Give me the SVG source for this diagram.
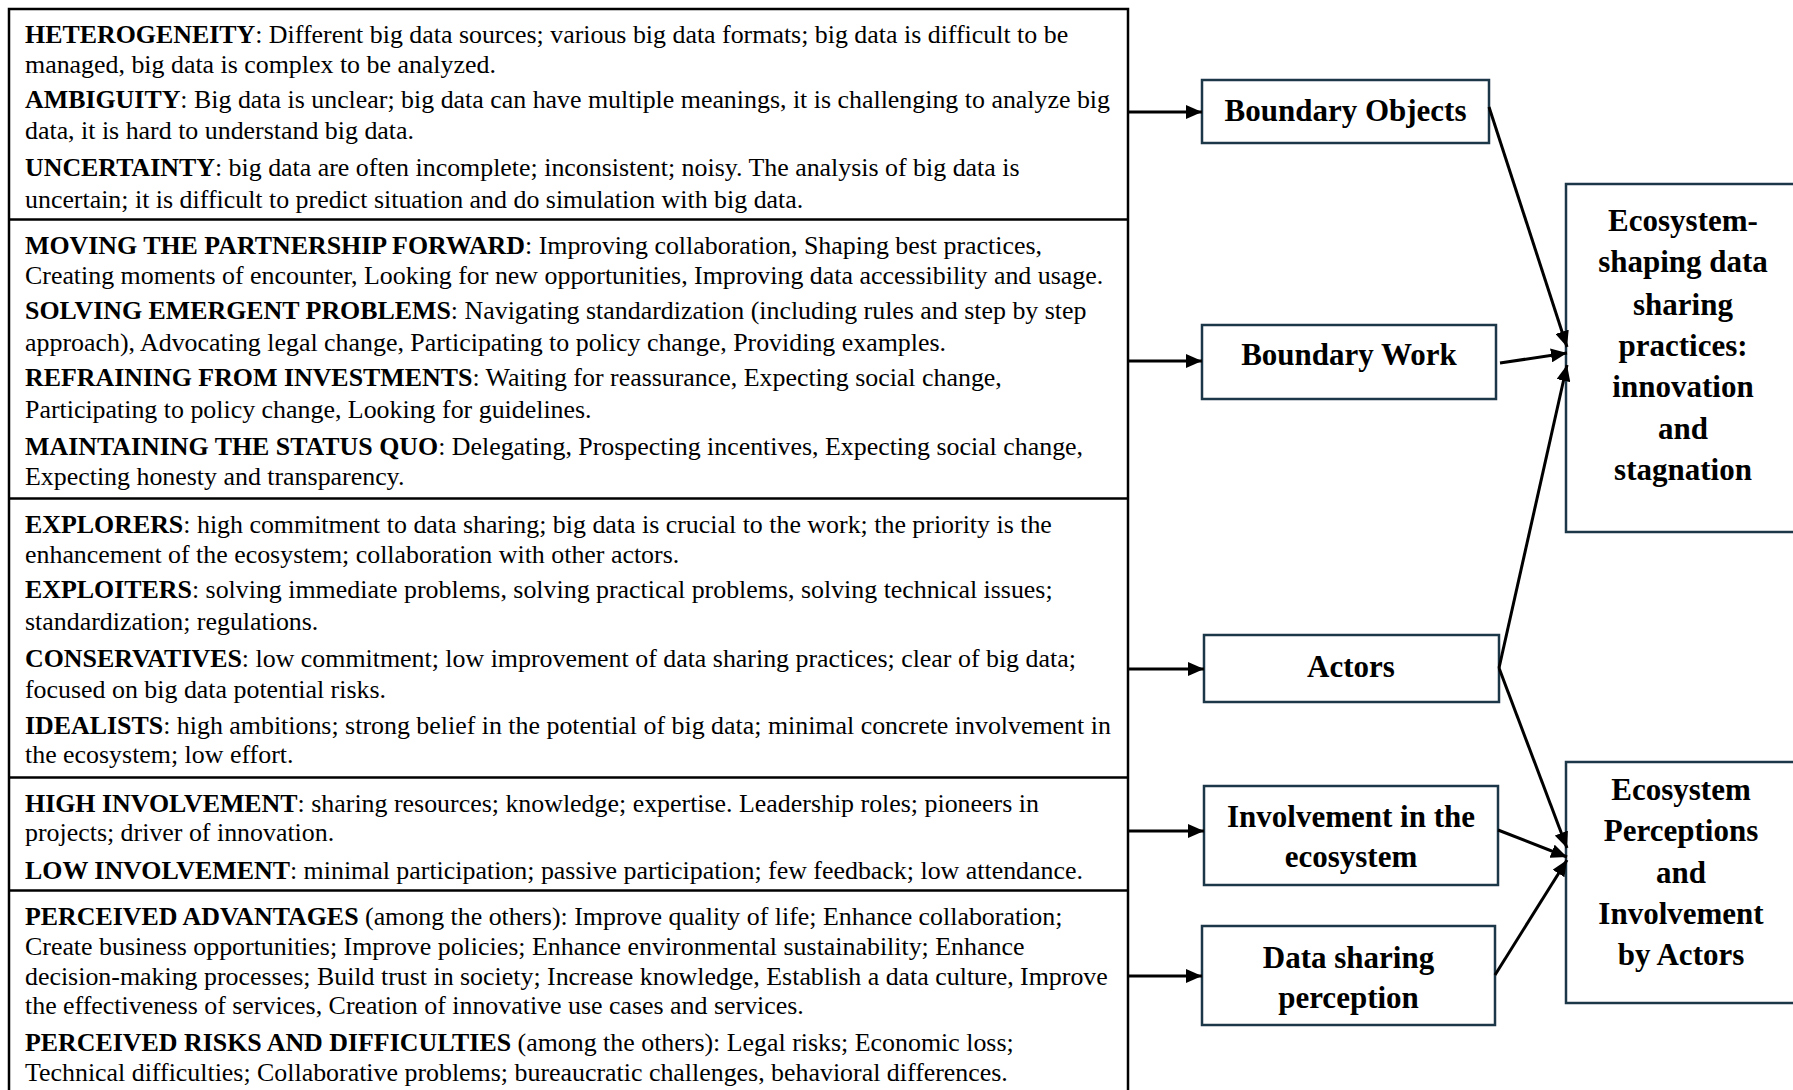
<svg xmlns="http://www.w3.org/2000/svg" width="1793" height="1090" viewBox="0 0 1793 1090">
  <defs>
    <style>
      .t { font-family: "Liberation Serif", "Times New Roman", serif; font-size: 25.9px; fill: #000; }
      .b { font-weight: bold; }
      .lbl { font-family: "Liberation Serif", "Times New Roman", serif; font-size: 31px; font-weight: bold; fill: #000; text-anchor: middle; }
      .grid { fill: none; stroke: #000; stroke-width: 2.5; }
      .box { fill: #fff; stroke: #1c3747; stroke-width: 2.5; }
      .link { fill: none; stroke: #000; stroke-width: 3; }
    </style>
    <marker id="arrow" markerUnits="userSpaceOnUse" markerWidth="17" markerHeight="14" refX="16" refY="7" orient="auto">
      <path d="M0,0 L16,7 L0,14 Z" fill="#000"/>
    </marker>
  </defs>

  <rect width="1793" height="1090" fill="#fff"/>

  <!-- Left table of categories -->
  <g id="table">
    <rect class="grid" x="9" y="9" width="1119" height="1095"/>
    <line class="grid" x1="9" y1="219.5" x2="1128" y2="219.5"/>
    <line class="grid" x1="9" y1="498.5" x2="1128" y2="498.5"/>
    <line class="grid" x1="9" y1="777.5" x2="1128" y2="777.5"/>
    <line class="grid" x1="9" y1="890.5" x2="1128" y2="890.5"/>
  </g>

  <g id="cell-objects">
    <text class="t" x="25" y="43"><tspan class="b">HETEROGENEITY</tspan>: Different big data sources; various big data formats; big data is difficult to be</text>
    <text class="t" x="25" y="73">managed, big data is complex to be analyzed.</text>
    <text class="t" x="25" y="108"><tspan class="b">AMBIGUITY</tspan>: Big data is unclear; big data can have multiple meanings, it is challenging to analyze big</text>
    <text class="t" x="25" y="139">data, it is hard to understand big data.</text>
    <text class="t" x="25" y="176"><tspan class="b">UNCERTAINTY</tspan>: big data are often incomplete; inconsistent; noisy. The analysis of big data is</text>
    <text class="t" x="25" y="208">uncertain; it is difficult to predict situation and do simulation with big data.</text>
  </g>

  <g id="cell-work">
    <text class="t" x="25" y="254"><tspan class="b">MOVING THE PARTNERSHIP FORWARD</tspan>: Improving collaboration, Shaping best practices,</text>
    <text class="t" x="25" y="284">Creating moments of encounter, Looking for new opportunities, Improving data accessibility and usage.</text>
    <text class="t" x="25" y="319"><tspan class="b">SOLVING EMERGENT PROBLEMS</tspan>: Navigating standardization (including rules and step by step</text>
    <text class="t" x="25" y="351">approach), Advocating legal change, Participating to policy change, Providing examples.</text>
    <text class="t" x="25" y="386"><tspan class="b">REFRAINING FROM INVESTMENTS</tspan>: Waiting for reassurance, Expecting social change,</text>
    <text class="t" x="25" y="418">Participating to policy change, Looking for guidelines.</text>
    <text class="t" x="25" y="455"><tspan class="b">MAINTAINING THE STATUS QUO</tspan>: Delegating, Prospecting incentives, Expecting social change,</text>
    <text class="t" x="25" y="485">Expecting honesty and transparency.</text>
  </g>

  <g id="cell-actors">
    <text class="t" x="25" y="533"><tspan class="b">EXPLORERS</tspan>: high commitment to data sharing; big data is crucial to the work; the priority is the</text>
    <text class="t" x="25" y="563">enhancement of the ecosystem; collaboration with other actors.</text>
    <text class="t" x="25" y="598"><tspan class="b">EXPLOITERS</tspan>: solving immediate problems, solving practical problems, solving technical issues;</text>
    <text class="t" x="25" y="630">standardization; regulations.</text>
    <text class="t" x="25" y="667"><tspan class="b">CONSERVATIVES</tspan>: low commitment; low improvement of data sharing practices; clear of big data;</text>
    <text class="t" x="25" y="698">focused on big data potential risks.</text>
    <text class="t" x="25" y="734"><tspan class="b">IDEALISTS</tspan>: high ambitions; strong belief in the potential of big data; minimal concrete involvement in</text>
    <text class="t" x="25" y="763">the ecosystem; low effort.</text>
  </g>

  <g id="cell-involvement">
    <text class="t" x="25" y="812"><tspan class="b">HIGH INVOLVEMENT</tspan>: sharing resources; knowledge; expertise. Leadership roles; pioneers in</text>
    <text class="t" x="25" y="841">projects; driver of innovation.</text>
    <text class="t" x="25" y="879"><tspan class="b">LOW INVOLVEMENT</tspan>: minimal participation; passive participation; few feedback; low attendance.</text>
  </g>

  <g id="cell-perception">
    <text class="t" x="25" y="925"><tspan class="b">PERCEIVED ADVANTAGES</tspan> (among the others): Improve quality of life; Enhance collaboration;</text>
    <text class="t" x="25" y="955">Create business opportunities; Improve policies; Enhance environmental sustainability; Enhance</text>
    <text class="t" x="25" y="985">decision-making processes; Build trust in society; Increase knowledge, Establish a data culture, Improve</text>
    <text class="t" x="25" y="1014">the effectiveness of services, Creation of innovative use cases and services.</text>
    <text class="t" x="25" y="1051"><tspan class="b">PERCEIVED RISKS AND DIFFICULTIES</tspan> (among the others): Legal risks; Economic loss;</text>
    <text class="t" x="25" y="1081">Technical difficulties; Collaborative problems; bureaucratic challenges, behavioral differences.</text>
  </g>

  <!-- Middle column -->
  <g id="boundary-objects">
    <rect class="box" x="1202" y="80" width="287" height="63"/>
    <text class="lbl" x="1345.5" y="121">Boundary Objects</text>
  </g>

  <g id="boundary-work">
    <rect class="box" x="1202" y="325" width="294" height="74"/>
    <text class="lbl" x="1349" y="365">Boundary Work</text>
  </g>

  <g id="actors">
    <rect class="box" x="1204" y="635" width="295" height="67"/>
    <text class="lbl" x="1351" y="677">Actors</text>
  </g>

  <g id="involvement">
    <rect class="box" x="1204" y="786" width="294" height="99"/>
    <text class="lbl" x="1351" y="827">Involvement in the</text>
    <text class="lbl" x="1351" y="867">ecosystem</text>
  </g>

  <g id="data-sharing-perception">
    <rect class="box" x="1202" y="926" width="293" height="99"/>
    <text class="lbl" x="1348.5" y="968">Data sharing</text>
    <text class="lbl" x="1348.5" y="1008">perception</text>
  </g>

  <!-- Right column outcomes -->
  <g id="ecosystem-shaping">
    <rect class="box" x="1566" y="184" width="240" height="348"/>
    <text class="lbl" x="1683" y="231">Ecosystem-</text>
    <text class="lbl" x="1683" y="272">shaping data</text>
    <text class="lbl" x="1683" y="315">sharing</text>
    <text class="lbl" x="1683" y="356">practices:</text>
    <text class="lbl" x="1683" y="397">innovation</text>
    <text class="lbl" x="1683" y="439">and</text>
    <text class="lbl" x="1683" y="480">stagnation</text>
  </g>

  <g id="ecosystem-perceptions">
    <rect class="box" x="1566" y="762" width="240" height="241"/>
    <text class="lbl" x="1681" y="800">Ecosystem</text>
    <text class="lbl" x="1681" y="841">Perceptions</text>
    <text class="lbl" x="1681" y="883">and</text>
    <text class="lbl" x="1681" y="924">Involvement</text>
    <text class="lbl" x="1681" y="965">by Actors</text>
  </g>

  <!-- Connectors -->
  <g id="connectors">
    <line class="link" x1="1128" y1="112" x2="1202" y2="112" marker-end="url(#arrow)"/>
    <line class="link" x1="1128" y1="361" x2="1202" y2="361" marker-end="url(#arrow)"/>
    <line class="link" x1="1128" y1="669" x2="1204" y2="669" marker-end="url(#arrow)"/>
    <line class="link" x1="1128" y1="831" x2="1204" y2="831" marker-end="url(#arrow)"/>
    <line class="link" x1="1128" y1="976" x2="1202" y2="976" marker-end="url(#arrow)"/>

    <line class="link" x1="1489" y1="107" x2="1567" y2="347" marker-end="url(#arrow)"/>
    <line class="link" x1="1500" y1="363" x2="1567" y2="353" marker-end="url(#arrow)"/>
    <line class="link" x1="1499" y1="668" x2="1567" y2="365" marker-end="url(#arrow)"/>
    <line class="link" x1="1499" y1="668" x2="1567" y2="848" marker-end="url(#arrow)"/>
    <line class="link" x1="1498" y1="830" x2="1567" y2="857" marker-end="url(#arrow)"/>
    <line class="link" x1="1495" y1="975" x2="1567" y2="860" marker-end="url(#arrow)"/>
  </g>
</svg>
